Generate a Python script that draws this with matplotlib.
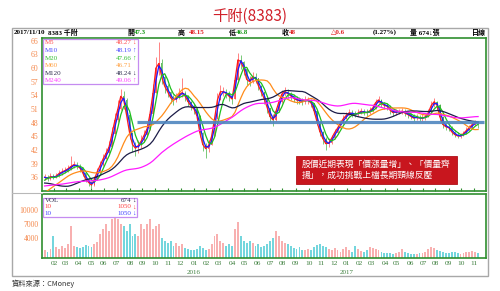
import matplotlib
matplotlib.use('Agg')
import matplotlib.pyplot as plt
from matplotlib.patches import Rectangle
from matplotlib.transforms import blended_transform_factory
import numpy as np
import pandas as pd

# ---- data (weekly, last trading day of each week) ----
first_week = '2015-01-09'
last_week = '2017-11-10'

# 2014 weekly closes, only feed the long moving averages
pre_close = [32.0, 32.5, 33.0, 33.5, 34.0, 33.5, 33.0, 32.5, 33.0, 34.0, 34.5, 35.0,
             34.5, 34.0, 33.5, 33.0, 33.0, 33.5, 34.0, 34.0, 33.5, 33.0, 33.0, 33.5,
             37.0, 38.5, 39.5, 40.0, 40.0, 39.5, 38.5, 37.5,
             35.0, 33.0, 32.0, 31.5,
             31.0, 30.5, 30.5, 31.0, 31.5, 31.5, 32.0, 32.5,
             34.0, 35.5, 36.0]

close = [36.0, 35.7, 36.2, 36.0, 36.3, 36.9, 37.2, 37.5, 37.9, 38.4,
         38.8, 38.5, 38.1, 37.0, 35.6, 34.9, 34.3, 35.6, 37.3, 38.7,
         40.1, 41.3, 42.7, 45.6, 48.5, 51.0, 53.8, 53.0, 49.6, 45.8,
         43.2, 42.4, 43.0, 44.0, 45.3, 46.7, 50.0, 54.5, 60.0, 61.0,
         58.0, 56.0, 54.8, 53.5, 52.9, 53.5, 54.3, 54.6, 53.8, 52.6,
         51.6, 51.0, 49.5, 45.8, 43.2, 42.3, 43.0, 45.0, 48.8, 53.0,
         54.8, 54.8, 54.4, 53.8, 53.2, 57.3, 61.8, 61.4, 59.9, 57.5,
         57.0, 58.1, 57.8, 56.1, 54.7, 53.2, 51.3, 49.3, 48.6, 50.5,
         52.6, 54.3, 54.8, 54.4, 53.9, 53.4, 53.0, 52.8, 52.7, 52.9,
         52.9, 52.3, 50.6, 48.2, 46.0, 44.5, 43.4, 43.5, 44.6, 45.8,
         46.8, 47.9, 48.9, 49.6, 50.2, 50.0, 49.8, 50.1, 50.5, 50.3,
         50.2, 50.6, 51.2, 52.4, 53.0, 52.2, 51.8, 51.6, 50.7, 50.2,
         50.4, 50.4, 50.5, 50.1, 49.8, 49.4, 49.0, 49.2, 49.0, 49.0,
         49.3, 50.2, 51.8, 52.6, 51.8, 49.2, 47.6, 47.1, 46.9, 46.0,
         45.4, 45.1, 45.1, 45.6, 46.3, 46.9, 47.6, 48.1, 48.0]

high = [36.8, 36.5, 36.9, 36.8, 37.0, 37.6, 38.0, 38.3, 38.8, 40.6,
        39.6, 39.4, 38.9, 38.2, 37.0, 35.8, 35.2, 36.2, 38.0, 39.6,
        41.2, 42.4, 44.0, 47.0, 50.2, 53.0, 55.5, 55.0, 53.5, 50.0,
        46.0, 43.8, 44.2, 45.2, 46.5, 48.0, 51.5, 56.5, 62.5, 65.8,
        62.0, 58.5, 56.5, 55.0, 54.0, 54.6, 55.6, 57.9, 55.0, 54.0,
        52.8, 52.2, 51.2, 49.6, 46.0, 43.5, 44.2, 46.2, 50.0, 54.5,
        56.2, 55.8, 55.5, 55.0, 54.5, 58.5, 63.3, 62.8, 61.5, 60.0,
        58.2, 59.2, 59.0, 57.8, 56.2, 54.8, 53.2, 51.3, 49.8, 51.2,
        53.4, 55.2, 55.8, 55.3, 54.8, 54.4, 53.9, 53.6, 53.5, 53.8,
        53.7, 53.2, 52.4, 50.8, 48.4, 46.2, 44.8, 44.6, 45.4, 46.6,
        47.6, 48.7, 49.6, 50.3, 50.9, 50.8, 50.6, 50.9, 51.3, 51.0,
        51.0, 51.4, 52.0, 53.2, 53.8, 53.2, 52.6, 52.4, 51.8, 51.0,
        51.1, 51.0, 51.2, 50.9, 50.5, 50.2, 49.8, 49.9, 49.7, 49.8,
        50.0, 51.0, 52.8, 53.5, 52.8, 52.2, 49.4, 48.0, 47.8, 47.2,
        46.3, 45.9, 45.8, 46.2, 47.0, 47.6, 48.2, 48.6, 48.3]

low = [35.4, 35.2, 35.5, 35.6, 35.8, 36.1, 36.6, 36.9, 37.2, 37.6,
       38.0, 37.8, 37.2, 36.3, 35.0, 34.2, 33.6, 34.0, 35.4, 37.0,
       38.5, 40.0, 41.0, 42.6, 45.5, 48.2, 50.8, 51.0, 48.6, 44.5,
       41.5, 40.7, 41.4, 42.5, 43.8, 45.0, 46.5, 50.0, 54.5, 58.5,
       56.5, 54.5, 53.6, 52.4, 51.8, 52.5, 53.2, 53.6, 52.8, 51.6,
       50.7, 50.0, 48.5, 44.8, 41.8, 40.3, 41.6, 43.0, 45.0, 48.8,
       53.0, 53.8, 53.5, 52.8, 52.2, 53.2, 57.0, 59.8, 58.5, 56.2,
       56.0, 56.8, 56.8, 55.2, 53.8, 52.2, 50.2, 48.2, 47.2, 48.4,
       50.3, 52.4, 53.8, 53.5, 53.0, 52.6, 52.2, 52.0, 51.9, 52.1,
       52.0, 51.4, 49.8, 47.4, 45.0, 43.4, 42.0, 42.6, 43.3, 44.5,
       45.6, 46.8, 47.8, 48.8, 49.4, 49.3, 49.2, 49.4, 49.8, 49.6,
       49.5, 49.9, 50.4, 51.0, 52.0, 51.5, 51.0, 50.8, 50.0, 49.5,
       49.7, 49.8, 49.8, 49.4, 49.1, 48.8, 48.4, 48.5, 48.4, 48.4,
       48.6, 49.2, 50.2, 51.5, 50.8, 48.4, 46.8, 46.4, 46.2, 45.3,
       44.9, 44.7, 44.7, 45.0, 45.6, 46.2, 46.9, 47.3, 46.8]

vol = [1500, 1200, 1800, 4500, 2200, 1800, 2500, 2000, 2800, 6500,
       2500, 2200, 2000, 2300, 2600, 2400, 2200, 2800, 3200, 5000,
       6000, 7000, 5500, 8000, 9500, 8000, 7000, 6500, 5500, 7000,
       4500, 5000, 4500, 7000, 6000, 7000, 8000, 6000, 6500, 7000,
       4000, 3500, 3000, 3500, 2500, 3000, 2500, 2800, 2000, 1800,
       1500, 1500, 1800, 2500, 2000, 1500, 1800, 2800, 4500, 5000,
       3500, 3000, 2500, 2800, 2500, 6000, 7500, 4500, 3500, 3000,
       3500, 3000, 2500, 2800, 2200, 2500, 2800, 3500, 4000, 5500,
       4500, 3500, 3000, 2800, 2500, 2000, 1800, 2200, 1600, 1500,
       1800, 1500, 2200, 2600, 2800, 2500, 2200, 1800, 1500, 2000,
       1500, 1200, 1800, 2200, 1500, 1200, 2500, 1800, 1400, 1200,
       1600, 2200, 2000, 1800, 1500, 1200, 1000, 900, 1000, 800,
       900, 1200, 1800, 1200, 900, 800, 700, 800, 900, 1000,
       1200, 1800, 2200, 2000, 1500, 1300, 1200, 1000, 900, 1100,
       1200, 900, 800, 1000, 1200, 1100, 1300, 1200, 900]

neck_level = 48.2
neck_start = '2015-08-18'

ma_names = ['M5', 'M10', 'M20', 'M60', 'M120', 'M240']
ma_weeks = [1, 2, 4, 12, 24, 48]
ma_last = ['48.27', '48.19', '47.66', '46.71', '48.24', '49.06']
ma_arrow = ['↓', '↑', '↑', '', '↓', '↑']

# ---- helpers ----
W, H = 500, 291
def fx(px):
    return px / W
def fy(py):
    return 1 - py / H

serif = ['Liberation Serif', 'DejaVu Serif', 'Noto Sans CJK TC']
cjk = ['Noto Sans CJK TC', 'DejaVu Sans']

days = pd.bdate_range('2015-01-08', '2017-12-31')
weeks = pd.date_range(first_week, last_week, freq='W-FRI')
x = days.searchsorted(weeks)

full = np.array(pre_close + close)
npre = len(pre_close)
c = np.array(close)
o = full[npre - 1:-1]
hi = np.array(high)
lo = np.array(low)

# pixel mapping: 2015-02 label at px 54, 2017-11 label at px 474
i0 = days.searchsorted(pd.Timestamp('2015-02-02'))
i1 = days.searchsorted(pd.Timestamp('2017-11-01'))
scale = (474 - 54) / (i1 - i0)
ax_l, ax_r = 42, 486
xlim = (i0 - (54 - ax_l) / scale, i0 + (ax_r - 54) / scale)

fig = plt.figure(figsize=(5, 2.91), dpi=100)
ax1 = fig.add_axes([fx(ax_l), fy(191), fx(ax_r) - fx(ax_l), fy(38) - fy(191)])
ax2 = fig.add_axes([fx(ax_l), fy(258), fx(ax_r) - fx(ax_l), fy(194) - fy(258)])

green_edge = '#2f8f2f'
for ax in (ax1, ax2):
    for s in ax.spines.values():
        s.set_color(green_edge)
        s.set_linewidth(1.2)
    ax.set_xlim(*xlim)

# candles
up = c >= o
cc = np.where(up, '#ff4a4a', '#3cb03c')
ax1.vlines(x, lo, hi, colors=cc, lw=0.6, alpha=0.8, zorder=2)
ax1.bar(x, np.maximum(np.abs(c - o), 0.1), bottom=np.minimum(c, o), width=2.4,
        color=cc, alpha=0.8, zorder=2)

ma_colors = ['#ff1a1a', '#1a1aff', '#1fbf1f', '#ff8c1a', '#1c1c48', '#ff1aff']
for n, col in zip(ma_weeks, ma_colors):
    m = pd.Series(full).rolling(n).mean().values[npre:]
    ax1.plot(x, m, color=col, lw=0.9, zorder=3)

ns = days.searchsorted(pd.Timestamp(neck_start))
ax1.plot([ns, xlim[1] - 3], [neck_level, neck_level], color='#4f86bf', lw=2.3,
         alpha=0.9, solid_capstyle='butt', zorder=4)

ax1.set_ylim(33.0, 66.6)
ax1.set_yticks(range(36, 67, 3))
ax1.tick_params(axis='y', length=0, pad=2.5, labelsize=5.5, labelcolor='#f4874b')
for t in ax1.get_yticklabels():
    t.set_family(serif)

months = pd.date_range('2015-02-01', '2017-11-01', freq='MS')
mx = days.searchsorted(months)
ax1.set_xticks(mx)
ax1.tick_params(axis='x', direction='in', length=2.5, color=green_edge,
                labelbottom=False)

# volume
vc = np.where(up, '#f7a3a3', '#5ccfd8')
ax2.bar(x, vol, width=3.2, color=vc, alpha=0.85)
ax2.set_ylim(-100, 13300)
ax2.set_yticks([4000, 7000, 10000])
ax2.tick_params(axis='y', length=0, pad=2.5, labelsize=5.5, labelcolor='#f4874b')
for t in ax2.get_yticklabels():
    t.set_family(serif)
ax2.set_xticks(mx)
ax2.set_xticklabels([m.strftime('%m') for m in months])
ax2.tick_params(axis='x', length=0, pad=2.5, labelsize=5.3, labelcolor='#3d7f3d')
for t in ax2.get_xticklabels():
    t.set_family(serif)
tr = blended_transform_factory(ax2.transData, fig.transFigure)
for m, xi in zip(months, mx):
    if m.month == 1:
        ax2.text(xi, fy(272.5), str(m.year), transform=tr, ha='center', va='center',
                 fontsize=5, color='#3d7f3d', family=serif)

# outer frame and separators
fig.add_artist(Rectangle((fx(12), fy(276)), fx(488) - fx(12), fy(28) - fy(276),
                         transform=fig.transFigure, fill=False, ec='#a8a8a8', lw=1.0))
fig.add_artist(plt.Line2D([fx(12), fx(42)], [fy(193), fy(193)], transform=fig.transFigure,
                          color='#b8b8b8', lw=0.8))

# title
fig.text(0.5, fy(16), '千附(8383)', ha='center', va='center', color='#d0202a',
         fontsize=11, family=cjk)

# header row
hy = fy(32.5)
head = [(13.5, '2017/11/10', 'black'), (48, '8383 千附', 'black'),
        (127, '開', 'black'), (133.5, '47.3', '#1a9a1a'),
        (178, '高', 'black'), (189, '48.15', '#e02020'),
        (229, '低', 'black'), (236, '46.8', '#1a9a1a'),
        (282, '收', 'black'), (289, '48', '#e02020'),
        (331, '△0.6', '#e02020'), (373, '(1.27%)', 'black'),
        (410, '量 674↓張', 'black'), (472, '日線', 'black')]
for px, s, col in head:
    fig.text(fx(px), hy, s, ha='left', va='center', fontsize=5, color=col,
             family=serif, weight='bold')

# MA legend box
fig.add_artist(Rectangle((fx(42.5), fy(83.5)), fx(137.5) - fx(42.5), fy(39) - fy(83.5),
                         transform=fig.transFigure, fc='white', ec='#c58cf0', lw=0.9,
                         zorder=5))
leg_colors = ['#ff5050', '#4848ff', '#30c030', '#ffa040', '#303050', '#ff40ff']
rows = [42.6, 50.5, 58.2, 65.9, 73.6, 80.6]
for name, val, arr, col, ry in zip(ma_names, ma_last, ma_arrow, leg_colors, rows):
    fig.text(fx(44.5), fy(ry), name, ha='left', va='center', fontsize=5, color=col,
             family=serif, zorder=6)
    fig.text(fx(131.5), fy(ry), val, ha='right', va='center', fontsize=5, color=col,
             family=serif, zorder=6)
    fig.text(fx(132.5), fy(ry), arr, ha='left', va='center', fontsize=5, color=col,
             family=serif, zorder=6)

# volume legend box
fig.add_artist(Rectangle((fx(42.5), fy(217)), fx(137) - fx(42.5), fy(197.5) - fy(217),
                         transform=fig.transFigure, fc='white', ec='#c58cf0', lw=0.9,
                         zorder=5))
vrows = [('VOL', '674', '#303050', 200.5), ('10', '1050', '#ff4040', 207),
         ('10', '1050', '#4040ff', 213.3)]
for name, val, col, ry in vrows:
    fig.text(fx(44.5), fy(ry), name, ha='left', va='center', fontsize=5, color=col,
             family=serif, zorder=6)
    fig.text(fx(131.5), fy(ry), val, ha='right', va='center', fontsize=5, color=col,
             family=serif, zorder=6)
    fig.text(fx(132.5), fy(ry), '↓', ha='left', va='center', fontsize=5, color=col,
             family=serif, zorder=6)

# annotation
fig.add_artist(Rectangle((fx(295.5), fy(183.5)), fx(457) - fx(295.5), fy(156) - fy(183.5),
                         transform=fig.transFigure, fc='#c8161e', ec='#b01018', lw=0.6,
                         zorder=5))
fig.text(fx(301.5), fy(164.2), '股價近期表現「價漲量增」、「價量齊', ha='left', va='center',
         fontsize=6.3, color='white', family=cjk, zorder=6)
fig.text(fx(301.5), fy(175.8), '揚」，成功挑戰上檔長期頸線反壓', ha='left', va='center',
         fontsize=6.3, color='white', family=cjk, zorder=6)

fig.text(fx(12), fy(284), '資料來源：CMoney', ha='left', va='center', fontsize=5.2,
         color='#333333', family=cjk)

fig.savefig('out.png', dpi=100)
